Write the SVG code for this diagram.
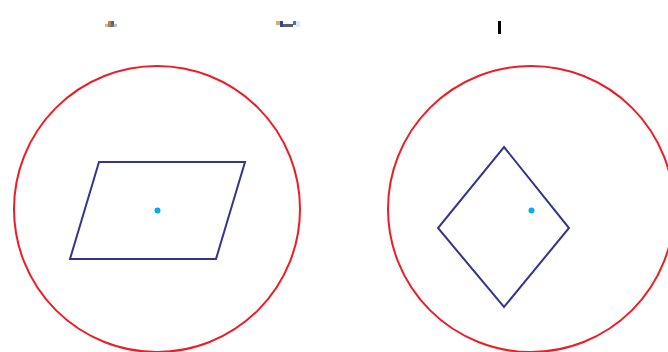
<svg xmlns="http://www.w3.org/2000/svg" width="668" height="352" viewBox="0 0 668 352">
<style>
.ring{fill:none;stroke:#ee1c25;stroke-width:2}
.shape{fill:none;stroke:#33358f;stroke-width:2;stroke-linejoin:miter}
.dot{fill:#00aeef}
</style>
<rect width="668" height="352" fill="#fff"/>
<g id="marks">
<rect x="108" y="21" width="3" height="6" fill="#c8843c"/>
<rect x="111" y="21" width="3" height="6" fill="#2a70b8"/>
<rect x="105" y="24" width="12" height="3" fill="#8a7a6a" opacity="0.5"/>
<rect x="276" y="21" width="4" height="4" fill="#e8a860"/>
<rect x="280" y="21" width="3" height="6" fill="#2a4a90"/>
<rect x="283" y="24" width="10" height="3" fill="#556070"/>
<rect x="293" y="21" width="3" height="4" fill="#7060b0"/>
<rect x="296" y="21" width="4" height="6" fill="#cceeff"/>
<rect x="498" y="21" width="3" height="13" fill="#000"/>
</g>
<g id="node-left">
<circle class="ring" cx="157" cy="209" r="143"/>
<polygon class="shape" points="99,162 245,162 216,259 70,259"/>
<circle class="dot" cx="157.5" cy="210.5" r="3"/>
</g>
<g id="node-right">
<circle class="ring" cx="531" cy="209" r="143"/>
<polygon class="shape" points="504,147 569,228 504,307 438,228"/>
<circle class="dot" cx="531.5" cy="210.5" r="3"/>
</g>
<g id="connectors"></g>
</svg>
